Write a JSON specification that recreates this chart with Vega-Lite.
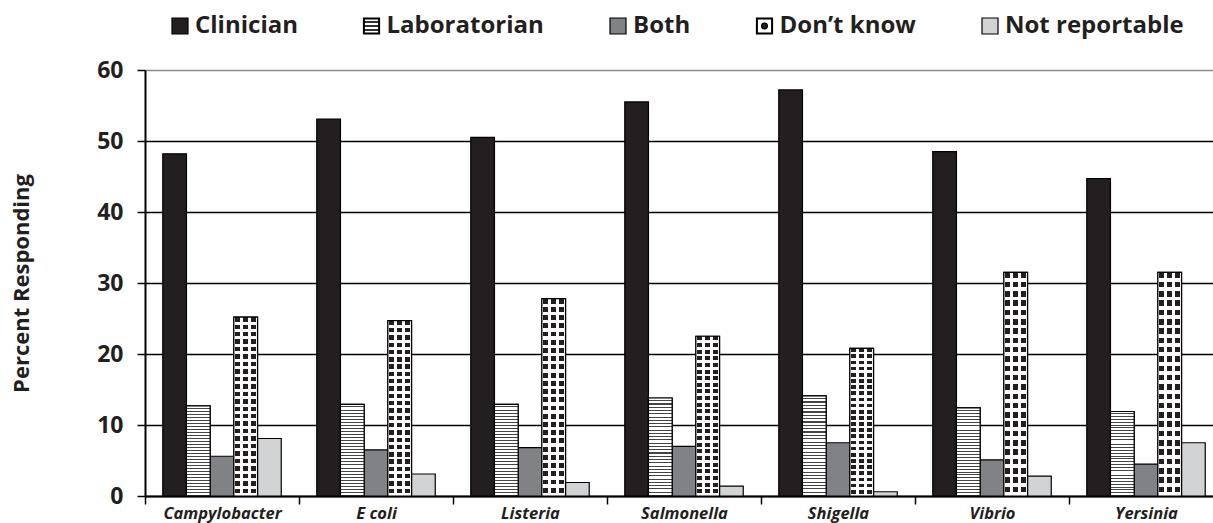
{
  "$schema": "https://vega.github.io/schema/vega-lite/v6.json",
  "autosize": {"type": "none"},
  "padding": {"left": 145, "top": 70, "right": -10, "bottom": 27},
  "width": 1078,
  "height": 426,
  "background": "white",
  "config": {"view": {"stroke": null}},
  "data": {"values": [
    {"organism": "Campylobacter", "response": "Clinician", "percent": 48.2},
    {"organism": "Campylobacter", "response": "Laboratorian", "percent": 12.7},
    {"organism": "Campylobacter", "response": "Both", "percent": 5.6},
    {"organism": "Campylobacter", "response": "Don’t know", "percent": 25.2},
    {"organism": "Campylobacter", "response": "Not reportable", "percent": 8.1},
    {"organism": "E coli", "response": "Clinician", "percent": 53.1},
    {"organism": "E coli", "response": "Laboratorian", "percent": 12.9},
    {"organism": "E coli", "response": "Both", "percent": 6.5},
    {"organism": "E coli", "response": "Don’t know", "percent": 24.7},
    {"organism": "E coli", "response": "Not reportable", "percent": 3.1},
    {"organism": "Listeria", "response": "Clinician", "percent": 50.5},
    {"organism": "Listeria", "response": "Laboratorian", "percent": 12.9},
    {"organism": "Listeria", "response": "Both", "percent": 6.8},
    {"organism": "Listeria", "response": "Don’t know", "percent": 27.8},
    {"organism": "Listeria", "response": "Not reportable", "percent": 1.9},
    {"organism": "Salmonella", "response": "Clinician", "percent": 55.5},
    {"organism": "Salmonella", "response": "Laboratorian", "percent": 13.8},
    {"organism": "Salmonella", "response": "Both", "percent": 7.0},
    {"organism": "Salmonella", "response": "Don’t know", "percent": 22.5},
    {"organism": "Salmonella", "response": "Not reportable", "percent": 1.4},
    {"organism": "Shigella", "response": "Clinician", "percent": 57.2},
    {"organism": "Shigella", "response": "Laboratorian", "percent": 14.1},
    {"organism": "Shigella", "response": "Both", "percent": 7.5},
    {"organism": "Shigella", "response": "Don’t know", "percent": 20.8},
    {"organism": "Shigella", "response": "Not reportable", "percent": 0.6},
    {"organism": "Vibrio", "response": "Clinician", "percent": 48.5},
    {"organism": "Vibrio", "response": "Laboratorian", "percent": 12.4},
    {"organism": "Vibrio", "response": "Both", "percent": 5.1},
    {"organism": "Vibrio", "response": "Don’t know", "percent": 31.5},
    {"organism": "Vibrio", "response": "Not reportable", "percent": 2.8},
    {"organism": "Yersinia", "response": "Clinician", "percent": 44.7},
    {"organism": "Yersinia", "response": "Laboratorian", "percent": 11.9},
    {"organism": "Yersinia", "response": "Both", "percent": 4.5},
    {"organism": "Yersinia", "response": "Don’t know", "percent": 31.5},
    {"organism": "Yersinia", "response": "Not reportable", "percent": 7.5}
  ]},
  "encoding": {
    "x": {
      "field": "organism", "type": "nominal", "sort": null,
      "scale": {"paddingInner": 0, "paddingOuter": 0},
      "axis": {
        "title": null, "labelAngle": 0, "labelFont": "Open Sans", "labelFontSize": 16.5,
        "labelFontWeight": "bold", "labelFontStyle": "italic", "labelColor": "#231f20",
        "labelPadding": 1, "tickBand": "extent", "tickSize": 8, "tickColor": "black",
        "tickWidth": 1.5, "domainColor": "black", "domainWidth": 2, "grid": false
      }
    },
    "xOffset": {
      "field": "response", "type": "nominal",
      "sort": ["Clinician", "Laboratorian", "Both", "Don’t know", "Not reportable"],
      "scale": {"domain": ["Clinician", "Laboratorian", "Both", "Don’t know", "Not reportable"], "paddingInner": 0, "paddingOuter": 0.75}
    },
    "y": {
      "field": "percent", "type": "quantitative",
      "scale": {"domain": [0, 60], "nice": false},
      "axis": {
        "values": [0, 10, 20, 30, 40, 50, 60],
        "title": "Percent Responding", "titleFont": "Open Sans", "titleFontSize": 22,
        "titleFontWeight": "bold", "titleColor": "#231f20", "titleX": -112, "titleY": 213,
        "labelFont": "Open Sans", "labelFontSize": 23, "labelFontWeight": "bold",
        "labelColor": "#231f20", "labelPadding": 14, "tickSize": 8, "tickColor": "black",
        "tickWidth": 1.5, "domainColor": "black", "domainWidth": 2,
        "grid": true, "gridWidth": 1.5,
        "gridColor": {"condition": {"test": "datum.value === 60", "value": "#8a8a8a"}, "value": "black"}
      }
    }
  },
  "layer": [
    {
      "mark": {"type": "bar", "stroke": "black", "strokeWidth": 1.2, "opacity": 1},
      "encoding": {
        "color": {
          "field": "response", "type": "nominal",
          "scale": {
            "domain": ["Clinician", "Laboratorian", "Both", "Don’t know", "Not reportable"],
            "range": ["#231f20", "#231f20", "#808285", "#231f20", "#d1d3d4"]
          },
          "legend": {
            "orient": "none", "legendX": 23, "legendY": -56, "direction": "horizontal",
            "title": null, "symbolSize": 256,
            "symbolStrokeColor": "black", "symbolStrokeWidth": 1.2, "symbolOpacity": 1,
            "labelFont": "Open Sans", "labelFontSize": 24, "labelFontWeight": "bold",
            "labelColor": "#231f20", "labelOffset": 3, "columnPadding": 61.5, "labelLimit": 400,
            "encode": {"symbols": {"update": {"stroke": {"value": "black"}, "strokeWidth": {"value": 1.2}}}}
          }
        }
      }
    },
    {
      "mark": {"type": "point", "filled": true, "opacity": 0, "size": 1},
      "encoding": {
        "color": {"field": "response", "type": "nominal"},
        "shape": {
          "field": "response", "type": "nominal",
          "scale": {
            "domain": ["Clinician", "Laboratorian", "Both", "Don’t know", "Not reportable"],
            "range": [
              "square",
              "M-1,-1H1V1H-1Z M-0.9,-0.9V0.9H0.9V-0.9Z M-0.9,-0.53H0.9V-0.47H-0.9Z M-0.9,-0.03H0.9V0.03H-0.9Z M-0.9,0.47H0.9V0.53H-0.9Z",
              "square",
              "M-1,-1H1V1H-1Z M-0.9,-0.9V0.9H0.9V-0.9Z M0.36,0A0.36,0.36,0,1,1,-0.36,0A0.36,0.36,0,1,1,0.36,0Z",
              "square"
            ]
          },
          "legend": {
            "orient": "none", "legendX": 23, "legendY": -56, "direction": "horizontal",
            "title": null, "symbolSize": 256,
            "symbolStrokeColor": "black", "symbolStrokeWidth": 1.2, "symbolOpacity": 1,
            "labelFont": "Open Sans", "labelFontSize": 24, "labelFontWeight": "bold",
            "labelColor": "#231f20", "labelOffset": 3, "columnPadding": 61.5, "labelLimit": 400,
            "encode": {"symbols": {"update": {"stroke": {"value": "black"}, "strokeWidth": {"value": 1.2}}}}
          }
        }
      }
    },
    {
      "transform": [{"filter": "datum.response === 'Laboratorian'"}],
      "mark": {"type": "bar", "stroke": "black", "strokeWidth": 1.2, "fill": {"gradient": "linear", "x1": 0, "y1": 0, "x2": 0, "y2": 1, "stops": [
        {"offset": 0, "color": "#fff"}, {"offset": 0.0222, "color": "#fff"}, {"offset": 0.0222, "color": "#444"}, {"offset": 0.0333, "color": "#444"},
        {"offset": 0.0333, "color": "#fff"}, {"offset": 0.0556, "color": "#fff"}, {"offset": 0.0556, "color": "#444"}, {"offset": 0.0667, "color": "#444"},
        {"offset": 0.0667, "color": "#fff"}, {"offset": 0.0889, "color": "#fff"}, {"offset": 0.0889, "color": "#444"}, {"offset": 0.1, "color": "#444"},
        {"offset": 0.1, "color": "#fff"}, {"offset": 0.1222, "color": "#fff"}, {"offset": 0.1222, "color": "#444"}, {"offset": 0.1333, "color": "#444"},
        {"offset": 0.1333, "color": "#fff"}, {"offset": 0.1556, "color": "#fff"}, {"offset": 0.1556, "color": "#444"}, {"offset": 0.1667, "color": "#444"},
        {"offset": 0.1667, "color": "#fff"}, {"offset": 0.1889, "color": "#fff"}, {"offset": 0.1889, "color": "#444"}, {"offset": 0.2, "color": "#444"},
        {"offset": 0.2, "color": "#fff"}, {"offset": 0.2222, "color": "#fff"}, {"offset": 0.2222, "color": "#444"}, {"offset": 0.2333, "color": "#444"},
        {"offset": 0.2333, "color": "#fff"}, {"offset": 0.2556, "color": "#fff"}, {"offset": 0.2556, "color": "#444"}, {"offset": 0.2667, "color": "#444"},
        {"offset": 0.2667, "color": "#fff"}, {"offset": 0.2889, "color": "#fff"}, {"offset": 0.2889, "color": "#444"}, {"offset": 0.3, "color": "#444"},
        {"offset": 0.3, "color": "#fff"}, {"offset": 0.3222, "color": "#fff"}, {"offset": 0.3222, "color": "#444"}, {"offset": 0.3333, "color": "#444"},
        {"offset": 0.3333, "color": "#fff"}, {"offset": 0.3556, "color": "#fff"}, {"offset": 0.3556, "color": "#444"}, {"offset": 0.3667, "color": "#444"},
        {"offset": 0.3667, "color": "#fff"}, {"offset": 0.3889, "color": "#fff"}, {"offset": 0.3889, "color": "#444"}, {"offset": 0.4, "color": "#444"},
        {"offset": 0.4, "color": "#fff"}, {"offset": 0.4222, "color": "#fff"}, {"offset": 0.4222, "color": "#444"}, {"offset": 0.4333, "color": "#444"},
        {"offset": 0.4333, "color": "#fff"}, {"offset": 0.4556, "color": "#fff"}, {"offset": 0.4556, "color": "#444"}, {"offset": 0.4667, "color": "#444"},
        {"offset": 0.4667, "color": "#fff"}, {"offset": 0.4889, "color": "#fff"}, {"offset": 0.4889, "color": "#444"}, {"offset": 0.5, "color": "#444"},
        {"offset": 0.5, "color": "#fff"}, {"offset": 0.5222, "color": "#fff"}, {"offset": 0.5222, "color": "#444"}, {"offset": 0.5333, "color": "#444"},
        {"offset": 0.5333, "color": "#fff"}, {"offset": 0.5556, "color": "#fff"}, {"offset": 0.5556, "color": "#444"}, {"offset": 0.5667, "color": "#444"},
        {"offset": 0.5667, "color": "#fff"}, {"offset": 0.5889, "color": "#fff"}, {"offset": 0.5889, "color": "#444"}, {"offset": 0.6, "color": "#444"},
        {"offset": 0.6, "color": "#fff"}, {"offset": 0.6222, "color": "#fff"}, {"offset": 0.6222, "color": "#444"}, {"offset": 0.6333, "color": "#444"},
        {"offset": 0.6333, "color": "#fff"}, {"offset": 0.6556, "color": "#fff"}, {"offset": 0.6556, "color": "#444"}, {"offset": 0.6667, "color": "#444"},
        {"offset": 0.6667, "color": "#fff"}, {"offset": 0.6889, "color": "#fff"}, {"offset": 0.6889, "color": "#444"}, {"offset": 0.7, "color": "#444"},
        {"offset": 0.7, "color": "#fff"}, {"offset": 0.7222, "color": "#fff"}, {"offset": 0.7222, "color": "#444"}, {"offset": 0.7333, "color": "#444"},
        {"offset": 0.7333, "color": "#fff"}, {"offset": 0.7556, "color": "#fff"}, {"offset": 0.7556, "color": "#444"}, {"offset": 0.7667, "color": "#444"},
        {"offset": 0.7667, "color": "#fff"}, {"offset": 0.7889, "color": "#fff"}, {"offset": 0.7889, "color": "#444"}, {"offset": 0.8, "color": "#444"},
        {"offset": 0.8, "color": "#fff"}, {"offset": 0.8222, "color": "#fff"}, {"offset": 0.8222, "color": "#444"}, {"offset": 0.8333, "color": "#444"},
        {"offset": 0.8333, "color": "#fff"}, {"offset": 0.8556, "color": "#fff"}, {"offset": 0.8556, "color": "#444"}, {"offset": 0.8667, "color": "#444"},
        {"offset": 0.8667, "color": "#fff"}, {"offset": 0.8889, "color": "#fff"}, {"offset": 0.8889, "color": "#444"}, {"offset": 0.9, "color": "#444"},
        {"offset": 0.9, "color": "#fff"}, {"offset": 0.9222, "color": "#fff"}, {"offset": 0.9222, "color": "#444"}, {"offset": 0.9333, "color": "#444"},
        {"offset": 0.9333, "color": "#fff"}, {"offset": 0.9556, "color": "#fff"}, {"offset": 0.9556, "color": "#444"}, {"offset": 0.9667, "color": "#444"},
        {"offset": 0.9667, "color": "#fff"}, {"offset": 0.9889, "color": "#fff"}, {"offset": 0.9889, "color": "#444"}, {"offset": 1, "color": "#444"}
      ]}}
    },
    {
      "transform": [{"filter": "datum.response === 'Don’t know'"}],
      "mark": {"type": "bar", "strokeWidth": 0, "fill": {"gradient": "linear", "x1": 0, "y1": 0, "x2": 0, "y2": 1, "stops": [
        {"offset": 0, "color": "#231f20"}, {"offset": 0.025, "color": "#231f20"}, {"offset": 0.025, "color": "#fff"}, {"offset": 0.0417, "color": "#fff"},
        {"offset": 0.0417, "color": "#231f20"}, {"offset": 0.0667, "color": "#231f20"}, {"offset": 0.0667, "color": "#fff"}, {"offset": 0.0833, "color": "#fff"},
        {"offset": 0.0833, "color": "#231f20"}, {"offset": 0.1083, "color": "#231f20"}, {"offset": 0.1083, "color": "#fff"}, {"offset": 0.125, "color": "#fff"},
        {"offset": 0.125, "color": "#231f20"}, {"offset": 0.15, "color": "#231f20"}, {"offset": 0.15, "color": "#fff"}, {"offset": 0.1667, "color": "#fff"},
        {"offset": 0.1667, "color": "#231f20"}, {"offset": 0.1917, "color": "#231f20"}, {"offset": 0.1917, "color": "#fff"}, {"offset": 0.2083, "color": "#fff"},
        {"offset": 0.2083, "color": "#231f20"}, {"offset": 0.2333, "color": "#231f20"}, {"offset": 0.2333, "color": "#fff"}, {"offset": 0.25, "color": "#fff"},
        {"offset": 0.25, "color": "#231f20"}, {"offset": 0.275, "color": "#231f20"}, {"offset": 0.275, "color": "#fff"}, {"offset": 0.2917, "color": "#fff"},
        {"offset": 0.2917, "color": "#231f20"}, {"offset": 0.3167, "color": "#231f20"}, {"offset": 0.3167, "color": "#fff"}, {"offset": 0.3333, "color": "#fff"},
        {"offset": 0.3333, "color": "#231f20"}, {"offset": 0.3583, "color": "#231f20"}, {"offset": 0.3583, "color": "#fff"}, {"offset": 0.375, "color": "#fff"},
        {"offset": 0.375, "color": "#231f20"}, {"offset": 0.4, "color": "#231f20"}, {"offset": 0.4, "color": "#fff"}, {"offset": 0.4167, "color": "#fff"},
        {"offset": 0.4167, "color": "#231f20"}, {"offset": 0.4417, "color": "#231f20"}, {"offset": 0.4417, "color": "#fff"}, {"offset": 0.4583, "color": "#fff"},
        {"offset": 0.4583, "color": "#231f20"}, {"offset": 0.4833, "color": "#231f20"}, {"offset": 0.4833, "color": "#fff"}, {"offset": 0.5, "color": "#fff"},
        {"offset": 0.5, "color": "#231f20"}, {"offset": 0.525, "color": "#231f20"}, {"offset": 0.525, "color": "#fff"}, {"offset": 0.5417, "color": "#fff"},
        {"offset": 0.5417, "color": "#231f20"}, {"offset": 0.5667, "color": "#231f20"}, {"offset": 0.5667, "color": "#fff"}, {"offset": 0.5833, "color": "#fff"},
        {"offset": 0.5833, "color": "#231f20"}, {"offset": 0.6083, "color": "#231f20"}, {"offset": 0.6083, "color": "#fff"}, {"offset": 0.625, "color": "#fff"},
        {"offset": 0.625, "color": "#231f20"}, {"offset": 0.65, "color": "#231f20"}, {"offset": 0.65, "color": "#fff"}, {"offset": 0.6667, "color": "#fff"},
        {"offset": 0.6667, "color": "#231f20"}, {"offset": 0.6917, "color": "#231f20"}, {"offset": 0.6917, "color": "#fff"}, {"offset": 0.7083, "color": "#fff"},
        {"offset": 0.7083, "color": "#231f20"}, {"offset": 0.7333, "color": "#231f20"}, {"offset": 0.7333, "color": "#fff"}, {"offset": 0.75, "color": "#fff"},
        {"offset": 0.75, "color": "#231f20"}, {"offset": 0.775, "color": "#231f20"}, {"offset": 0.775, "color": "#fff"}, {"offset": 0.7917, "color": "#fff"},
        {"offset": 0.7917, "color": "#231f20"}, {"offset": 0.8167, "color": "#231f20"}, {"offset": 0.8167, "color": "#fff"}, {"offset": 0.8333, "color": "#fff"},
        {"offset": 0.8333, "color": "#231f20"}, {"offset": 0.8583, "color": "#231f20"}, {"offset": 0.8583, "color": "#fff"}, {"offset": 0.875, "color": "#fff"},
        {"offset": 0.875, "color": "#231f20"}, {"offset": 0.9, "color": "#231f20"}, {"offset": 0.9, "color": "#fff"}, {"offset": 0.9167, "color": "#fff"},
        {"offset": 0.9167, "color": "#231f20"}, {"offset": 0.9417, "color": "#231f20"}, {"offset": 0.9417, "color": "#fff"}, {"offset": 0.9583, "color": "#fff"},
        {"offset": 0.9583, "color": "#231f20"}, {"offset": 0.9833, "color": "#231f20"}, {"offset": 0.9833, "color": "#fff"}, {"offset": 1, "color": "#fff"}
      ]}}
    },
    {
      "transform": [{"filter": "datum.response === 'Don’t know'"}],
      "mark": {"type": "bar", "stroke": "black", "strokeWidth": 1.2, "fill": {"gradient": "linear", "x1": 0, "y1": 0, "x2": 1, "y2": 0, "stops": [
        {"offset": 0, "color": "#fff"}, {"offset": 0.0625, "color": "#fff"}, {"offset": 0.0625, "color": "rgba(255,255,255,0)"}, {"offset": 0.2708, "color": "rgba(255,255,255,0)"},
        {"offset": 0.2708, "color": "#fff"}, {"offset": 0.3958, "color": "#fff"}, {"offset": 0.3958, "color": "rgba(255,255,255,0)"}, {"offset": 0.6042, "color": "rgba(255,255,255,0)"},
        {"offset": 0.6042, "color": "#fff"}, {"offset": 0.7292, "color": "#fff"}, {"offset": 0.7292, "color": "rgba(255,255,255,0)"}, {"offset": 0.9375, "color": "rgba(255,255,255,0)"},
        {"offset": 0.9375, "color": "#fff"}, {"offset": 1, "color": "#fff"}
      ]}}
    }
  ]
}
